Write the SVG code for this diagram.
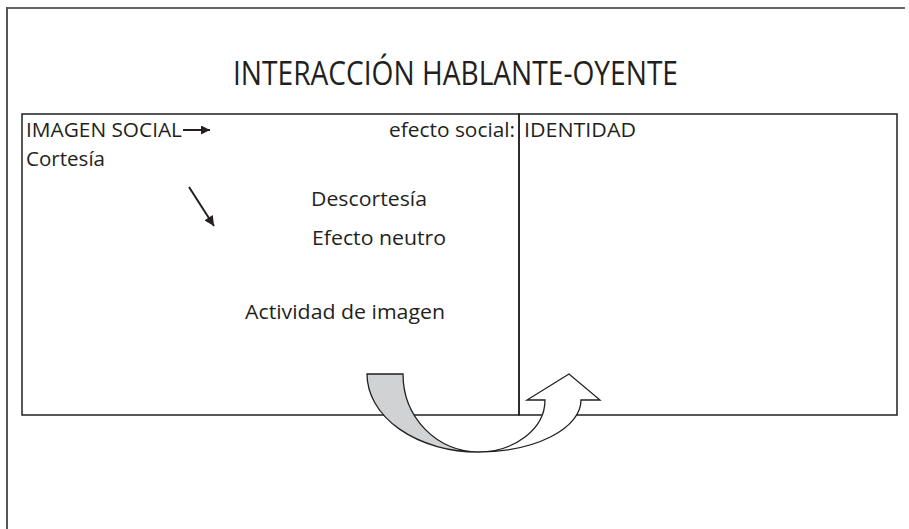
<svg xmlns="http://www.w3.org/2000/svg" width="909" height="529" viewBox="0 0 909 529">
<style>
text{font-family:"Open Sans","Liberation Sans",sans-serif;fill:#231f20}
.t{font-size:19.5px}
.ln{stroke:#231f20;stroke-width:1.5;fill:none}
.sh{stroke:#231f20;stroke-width:1.3}
</style>
<defs>
<marker id="ah" viewBox="0 0 10 10" refX="10" refY="5" markerWidth="11" markerHeight="9" markerUnits="userSpaceOnUse" orient="auto">
<path d="M0,0 L10,5 L0,10 z" fill="#231f20"/>
</marker>
<marker id="ah2" viewBox="0 0 10 10" refX="10" refY="5" markerWidth="11" markerHeight="10" markerUnits="userSpaceOnUse" orient="auto">
<path d="M0,0 L10,5 L0,10 z" fill="#231f20"/>
</marker>
</defs>
<g id="frame">
<path d="M6,8 H905" stroke="#666" stroke-width="2" fill="none"/>
<path d="M7,7 V529" stroke="#555" stroke-width="2" fill="none"/>
</g>
<g id="title">
<text x="233" y="85" font-size="32" textLength="445" lengthAdjust="spacingAndGlyphs">INTERACCIÓN HABLANTE-OYENTE</text>
</g>
<g id="box-imagen">
<rect x="22" y="114" width="497" height="301" class="ln"/>
<text class="t" x="26" y="137" textLength="156" lengthAdjust="spacingAndGlyphs">IMAGEN SOCIAL</text>
<text class="t" x="26" y="166" textLength="79" lengthAdjust="spacingAndGlyphs">Cortesía</text>
<text class="t" x="389" y="137" textLength="126" lengthAdjust="spacingAndGlyphs">efecto social:</text>
<text class="t" x="311" y="206" textLength="116" lengthAdjust="spacingAndGlyphs">Descortesía</text>
<text class="t" x="312" y="245" textLength="134" lengthAdjust="spacingAndGlyphs">Efecto neutro</text>
<text class="t" x="245" y="319" textLength="200" lengthAdjust="spacingAndGlyphs">Actividad de imagen</text>
</g>
<g id="box-identidad">
<rect x="519" y="114" width="378" height="301" class="ln"/>
<text class="t" x="524" y="137" textLength="112" lengthAdjust="spacingAndGlyphs">IDENTIDAD</text>
</g>
<g id="connectors">
<line x1="183" y1="130" x2="210" y2="130" stroke="#231f20" stroke-width="2" marker-end="url(#ah)"/>
<line x1="189" y1="187" x2="214" y2="226" stroke="#231f20" stroke-width="2" marker-end="url(#ah2)"/>
</g>
<g id="curved-arrow">
<path class="sh" fill="#d1d2d4" d="M367,374 H403 A75,78 0 0 0 478,452 A111,78 0 0 1 367,374 Z"/>
<path class="sh" fill="#ffffff" d="M478,452 A67,52 0 0 0 545,400 H527 L569,374 L600,400 H581 A103,52 0 0 1 478,452 Z"/>
</g>
</svg>
